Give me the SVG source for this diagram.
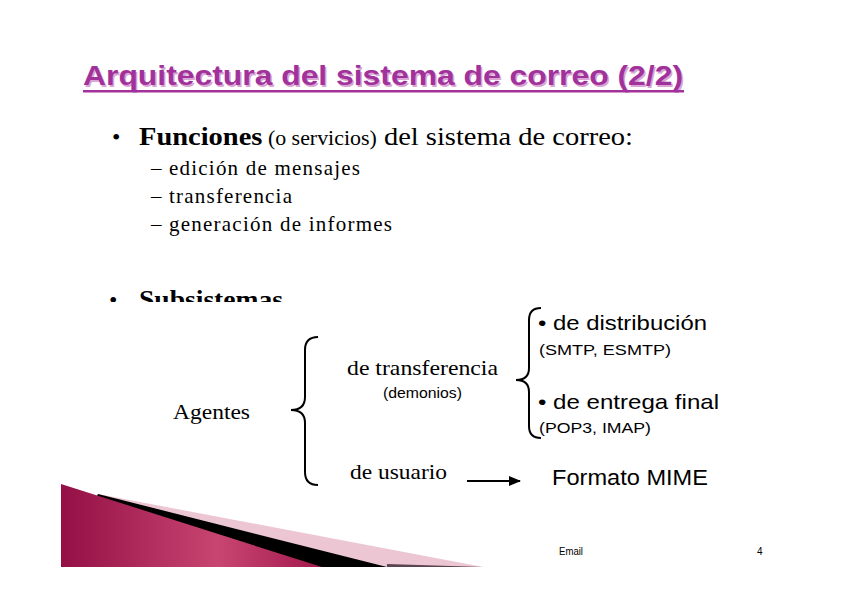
<svg xmlns="http://www.w3.org/2000/svg" width="842" height="595" viewBox="0 0 842 595">
<defs>
<style>
.t{font-family:"Liberation Serif","Times New Roman",serif;fill:#000}
.s{font-family:"Liberation Sans",Arial,sans-serif;fill:#000}
.br{fill:none;stroke:#000;stroke-width:2}
</style>
<linearGradient id="mg" x1="0" y1="0" x2="1" y2="0">
<stop offset="0" stop-color="#940f45"/>
<stop offset="0.6" stop-color="#c84571"/>
<stop offset="1" stop-color="#a3194d"/>
</linearGradient>
<clipPath id="cut"><rect x="0" y="270" width="400" height="32"/></clipPath>
<marker id="ah" markerWidth="12" markerHeight="10" refX="11" refY="5" orient="auto" markerUnits="userSpaceOnUse">
<path d="M0,0 L12,5 L0,10 Z" fill="#000"/>
</marker>
</defs>
<rect width="842" height="595" fill="#fff"/>

<g id="decoration">
<polygon points="98,494 483,567 61,567" fill="#ecc7d3"/>
<polygon points="387,564 483,567 387,567" fill="#5a4550"/>
<polygon points="98,494 387,567 61,567" fill="#000"/>
<polygon points="61,484 322,567 61,567" fill="url(#mg)"/>
</g>

<g id="title">
<text x="84.5" y="86.5" font-family="Liberation Sans,Arial,sans-serif" font-weight="bold" font-size="27" fill="#d9a6d4" textLength="600" lengthAdjust="spacingAndGlyphs">Arquitectura del sistema de correo (2/2)</text>
<text x="83" y="85" font-family="Liberation Sans,Arial,sans-serif" font-weight="bold" font-size="27" fill="#a2329b" textLength="600" lengthAdjust="spacingAndGlyphs">Arquitectura del sistema de correo (2/2)</text>
<rect x="83" y="90" width="601" height="2.5" fill="#a2329b"/>
</g>

<g id="funciones">
<text class="t" x="112" y="145" font-size="24">•</text>
<text class="t" x="139" y="145" font-size="26" textLength="494" lengthAdjust="spacingAndGlyphs"><tspan font-weight="bold">Funciones</tspan><tspan font-size="20"> (o servicios)</tspan> del sistema de correo:</text>
<text class="t" x="151" y="175" font-size="21">–</text>
<text class="t" x="169" y="175" font-size="21" textLength="191" lengthAdjust="spacing">edición de mensajes</text>
<text class="t" x="151" y="203" font-size="21">–</text>
<text class="t" x="169" y="203" font-size="21" textLength="123" lengthAdjust="spacing">transferencia</text>
<text class="t" x="151" y="231" font-size="21">–</text>
<text class="t" x="169" y="231" font-size="21" textLength="223" lengthAdjust="spacing">generación de informes</text>
</g>

<g id="subsistemas" clip-path="url(#cut)">
<text class="t" x="109" y="308" font-size="24">•</text>
<text class="t" x="139" y="308" font-size="25" font-weight="bold" textLength="144" lengthAdjust="spacingAndGlyphs">Subsistemas</text>
</g>

<g id="agentes"><text class="t" x="173" y="419" font-size="21" textLength="77" lengthAdjust="spacingAndGlyphs">Agentes</text></g>

<g id="transferencia">
<text class="t" x="347" y="375" font-size="21" textLength="151" lengthAdjust="spacingAndGlyphs">de transferencia</text>
<text class="s" x="383" y="398" font-size="14.5" textLength="79" lengthAdjust="spacingAndGlyphs">(demonios)</text>
</g>

<g id="distribucion">
<text class="s" x="538" y="330" font-size="21" textLength="169" lengthAdjust="spacingAndGlyphs">• de distribución</text>
<text class="s" x="539" y="355" font-size="15" textLength="132" lengthAdjust="spacingAndGlyphs">(SMTP, ESMTP)</text>
</g>

<g id="entrega">
<text class="s" x="538" y="409" font-size="21" textLength="181" lengthAdjust="spacingAndGlyphs">• de entrega final</text>
<text class="s" x="539" y="433" font-size="15" textLength="112" lengthAdjust="spacingAndGlyphs">(POP3, IMAP)</text>
</g>

<g id="usuario"><text class="t" x="350" y="479" font-size="21" textLength="97" lengthAdjust="spacingAndGlyphs">de usuario</text></g>

<g id="mime"><text class="s" x="552" y="485" font-size="22" textLength="156" lengthAdjust="spacingAndGlyphs">Formato MIME</text></g>

<g id="connectors">
<path class="br" d="M318,337 Q305,337 305,350 L305,397 Q305,410 291,410 Q305,410 305,423 L305,472 Q305,485 318,485"/>
<path class="br" d="M541,308 Q529,308 529,320 L529,368 Q529,380 516,380 Q529,380 529,392 L529,426 Q529,438 541,438"/>
<line x1="467" y1="481" x2="520" y2="481" stroke="#000" stroke-width="2" marker-end="url(#ah)"/>
</g>

<g id="footer">
<text class="s" x="559" y="555" font-size="10" textLength="24" lengthAdjust="spacingAndGlyphs">Email</text>
<text class="s" x="757" y="555" font-size="10">4</text>
</g>
</svg>
